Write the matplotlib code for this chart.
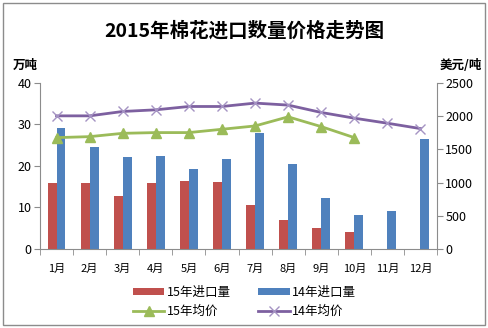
import matplotlib
matplotlib.use("Agg")
import matplotlib.pyplot as plt
from matplotlib.patches import Rectangle
import numpy as np

plt.rcParams['font.family'] = ['Noto Sans CJK SC', 'DejaVu Sans']

months = ["1月", "2月", "3月", "4月", "5月", "6月", "7月", "8月", "9月", "10月", "11月", "12月"]
imp15 = [16.0, 15.8, 12.8, 15.9, 16.3, 16.2, 10.5, 6.9, 5.0, 4.0]
imp14 = [29.2, 24.5, 22.2, 22.4, 19.2, 21.7, 28.0, 20.4, 12.3, 8.1, 9.2, 26.4]
price15 = [1677, 1692, 1742, 1753, 1753, 1803, 1853, 1990, 1843, 1677]
price14 = [2005, 2005, 2071, 2096, 2146, 2146, 2197, 2167, 2056, 1970, 1894, 1813]

c_red = "#C0504D"
c_blue = "#4F81BD"
c_green = "#9BBB59"
c_purple = "#7D60A0"

fig = plt.figure(figsize=(4.89, 3.28), dpi=100)
fig.patches.append(Rectangle((0.006, 0.008), 0.985, 0.983, transform=fig.transFigure,
                             fill=False, edgecolor="#8C8C8C", linewidth=1.0))

ax = fig.add_axes([0.0818, 0.2409, 0.8119, 0.5061])
x = np.arange(len(months))
w = 0.27
b1 = ax.bar(x[:len(imp15)] - w / 2, imp15, width=w, color=c_red, label="15年进口量")
b2 = ax.bar(x - w / 2 + w, imp14, width=w, color=c_blue, label="14年进口量")
ax.set_xlim(-0.5, len(months) - 0.5)
ax.set_ylim(0, 40)
ax.set_yticks([0, 10, 20, 30, 40])
ax.set_xticks(x)
ax.set_xticklabels(months)
ax.set_xticks(np.arange(-0.5, len(months), 1), minor=True)
ax.tick_params(axis='x', which='major', length=0, labelsize=8, pad=11)
ax.tick_params(axis='x', which='minor', length=4, color="#8C8C8C", direction='out')
ax.tick_params(axis='y', length=4, color="#8C8C8C", labelsize=9, pad=2)

ax2 = ax.twinx()
l1, = ax2.plot(x[:len(price15)], price15, color=c_green, linewidth=2, marker='^',
               markersize=7, label="15年均价")
l2, = ax2.plot(x, price14, color=c_purple, linewidth=2, marker='x', markersize=7,
               markeredgecolor="#A593C3", markeredgewidth=1, label="14年均价")
ax2.set_ylim(0, 2500)
ax2.set_yticks([0, 500, 1000, 1500, 2000, 2500])
ax2.tick_params(axis='y', length=4, color="#8C8C8C", labelsize=9, pad=2)

for a in (ax, ax2):
    a.spines['top'].set_visible(False)
    for s in ('left', 'right', 'bottom'):
        a.spines[s].set_color("#8C8C8C")
ax.spines['right'].set_visible(False)
ax2.spines['left'].set_visible(False)
ax2.spines['bottom'].set_visible(False)

fig.text(0.5, 0.905, "2015年棉花进口数量价格走势图", ha='center', va='center',
         fontsize=14, fontweight='bold')
fig.text(0.027, 0.80, "万吨", ha='left', va='center', fontsize=9, fontweight='bold')
fig.text(0.985, 0.80, "美元/吨", ha='right', va='center', fontsize=9, fontweight='bold')

fig.legend([b1, l1, b2, l2], ["15年进口量", "15年均价", "14年进口量", "14年均价"],
           ncol=2, loc='center', bbox_to_anchor=(0.5, 0.08), frameon=False,
           fontsize=9, handlelength=2.5, handleheight=0.5, handletextpad=0.2,
           columnspacing=2.2, labelspacing=0.45, borderpad=0)

fig.savefig("out.png", dpi=100)
